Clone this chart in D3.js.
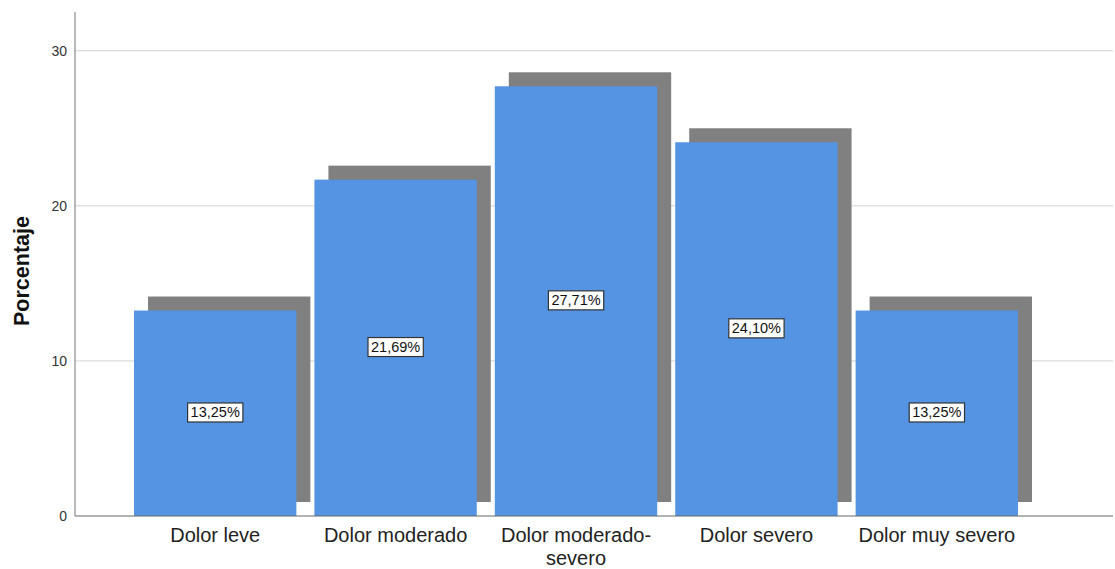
<!DOCTYPE html>
<html><head><meta charset="utf-8">
<script src="https://cdn.jsdelivr.net/npm/d3@7"></script>
<style>body{margin:0;background:#fff;}svg{display:block;font-family:"Liberation Sans",Arial,sans-serif;}</style>
</head><body>
<svg id="c" width="1115" height="569"></svg>
<script>
const categories = ["Dolor leve", "Dolor moderado", "Dolor moderado-severo", "Dolor severo", "Dolor muy severo"];
const categoryLines = [["Dolor leve"], ["Dolor moderado"], ["Dolor moderado-", "severo"], ["Dolor severo"], ["Dolor muy severo"]];
const values = [13.25, 21.69, 27.71, 24.10, 13.25];
const valueLabels = ["13,25%", "21,69%", "27,71%", "24,10%", "13,25%"];
const yTicks = [0, 10, 20, 30];
const yTitle = "Porcentaje";

(function() {
const svg = d3.select("#c");
const pLeft = 75, pRight = 1113, pTop = 12, pBottom = 516;
const x = d3.scaleBand().domain(categories).range([125, 1027]).paddingInner(0.1).paddingOuter(0.05);
const y = d3.scaleLinear().domain([0, 32.5]).range([pBottom, pTop]);
const off = 14;

// gridlines
svg.append("g").selectAll("line").data(yTicks.filter(d => d > 0)).join("line")
  .attr("x1", pLeft).attr("x2", pRight).attr("y1", d => y(d)).attr("y2", d => y(d))
  .attr("stroke", "#d3d3d3").attr("stroke-width", 1);

// shadows
svg.append("g").selectAll("rect").data(values).join("rect")
  .attr("x", (d, i) => x(categories[i]) + off)
  .attr("y", d => y(d) - off)
  .attr("width", x.bandwidth())
  .attr("height", d => pBottom - y(d))
  .attr("fill", "#808080");

// bars
svg.append("g").selectAll("rect").data(values).join("rect")
  .attr("x", (d, i) => x(categories[i]))
  .attr("y", d => y(d))
  .attr("width", x.bandwidth())
  .attr("height", d => pBottom - y(d))
  .attr("fill", "#5594e2");

// axes
const yAxis = d3.axisLeft(y).tickValues(yTicks).tickSize(0).tickPadding(8);
const gy = svg.append("g").attr("transform", `translate(${pLeft},0)`).call(yAxis);
gy.select(".domain").remove();
gy.selectAll("text").attr("font-size", 14).attr("fill", "#333").attr("font-family", "Liberation Sans, Arial, sans-serif");
svg.append("line").attr("x1", pLeft).attr("x2", pLeft).attr("y1", pTop).attr("y2", pBottom).attr("stroke", "#777");
svg.append("line").attr("x1", pLeft).attr("x2", pRight).attr("y1", pBottom).attr("y2", pBottom).attr("stroke", "#666");

// x labels
const xl = svg.append("g").selectAll("text").data(categories).join("text")
  .attr("text-anchor", "middle").attr("font-size", 20).attr("fill", "#222")
  .attr("transform", d => `translate(${x(d) + x.bandwidth() / 2},542)`);
xl.each(function(d, i) {
  const t = d3.select(this);
  categoryLines[i].forEach((ln, j) => t.append("tspan").attr("x", 0).attr("dy", j === 0 ? 0 : 23).text(ln));
});

// y title
svg.append("text").attr("transform", "translate(29,271) rotate(-90)")
  .attr("text-anchor", "middle").attr("font-size", 21.5).attr("font-weight", "bold").attr("fill", "#111").text(yTitle);

// value labels
const lg = svg.append("g").selectAll("g").data(values).join("g")
  .attr("transform", (d, i) => `translate(${x(categories[i]) + x.bandwidth() / 2},${(y(d) + pBottom) / 2 - 1})`);
lg.append("text").attr("text-anchor", "middle").attr("dy", "0.36em").attr("font-size", 14.5).attr("fill", "#111")
  .text((d, i) => valueLabels[i]);
lg.each(function() {
  const g = d3.select(this);
  const bb = g.select("text").node().getBBox();
  g.insert("rect", "text").attr("x", bb.x - 3).attr("y", bb.y - 1.5).attr("width", bb.width + 6).attr("height", bb.height + 3)
    .attr("fill", "#fff").attr("stroke", "#333").attr("stroke-width", 1.2);
});
})();
</script>
</body></html>
